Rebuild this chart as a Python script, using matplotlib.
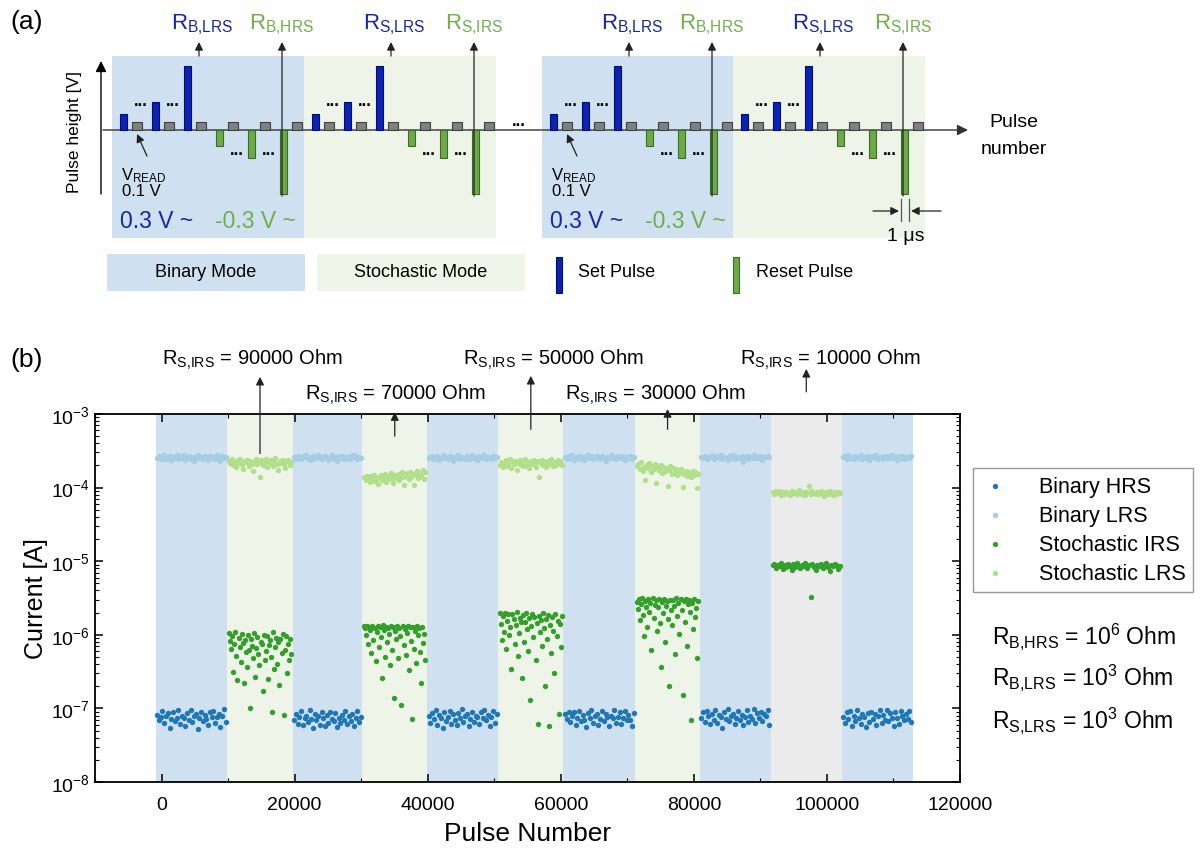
import numpy as np
import matplotlib.pyplot as plt
from matplotlib.ticker import MultipleLocator, LogLocator, FuncFormatter, NullFormatter

plt.rcParams['font.family'] = ['Liberation Sans', 'DejaVu Sans']
plt.rcParams['mathtext.fontset'] = 'custom'
plt.rcParams['mathtext.rm'] = 'Liberation Sans'
plt.rcParams['mathtext.it'] = 'Liberation Sans:italic'
plt.rcParams['mathtext.bf'] = 'Liberation Sans:bold'

# ---------------- panel (a) data: schematic pulse heights [V]
set_heights = [0.2, 0.35, 0.8]
reset_heights = [-0.2, -0.35, -0.8]
read_height = 0.1
cycle_modes = ['binary', 'stoch', 'binary', 'stoch']
cycle_top_labels = [['B', 'LRS', 'B', 'HRS'], ['S', 'LRS', 'S', 'IRS'],
                    ['B', 'LRS', 'B', 'HRS'], ['S', 'LRS', 'S', 'IRS']]

# ---------------- panel (b) data
block_edges = [-900, 9900, 19700, 30200, 39900, 50600, 60400, 71200, 80900, 91600, 102200, 112900]
block_kind = ['binary', 'stoch', 'binary', 'stoch', 'binary', 'stoch', 'binary', 'stoch', 'binary', 'gray', 'binary']

# binary LRS, x1e-4 A
lrs_b0 = [2.55, 2.68, 2.42, 2.61, 2.78, 2.47, 2.58, 2.71, 2.36, 2.63, 2.52, 2.80, 2.45, 2.66, 2.50, 2.74, 2.40, 2.59, 2.69, 2.48,
          2.62, 2.33, 2.57, 2.76, 2.51, 2.64, 2.44, 2.70, 2.56, 2.38, 2.67, 2.53, 2.60, 2.46, 2.73, 2.54, 2.28, 2.65, 2.49, 2.58]
lrs_b2 = [2.60, 2.47, 2.72, 2.53, 2.41, 2.66, 2.58, 2.79, 2.45, 2.62, 2.35, 2.70, 2.55, 2.49, 2.75, 2.61, 2.43, 2.57, 2.68, 2.52,
          2.40, 2.64, 2.77, 2.48, 2.59, 2.30, 2.66, 2.54, 2.71, 2.46, 2.63, 2.57, 2.42, 2.69, 2.51, 2.74, 2.58, 2.44, 2.62, 2.55]
lrs_b4 = [2.49, 2.63, 2.71, 2.44, 2.58, 2.66, 2.38, 2.55, 2.77, 2.51, 2.60, 2.46, 2.69, 2.57, 2.33, 2.64, 2.52, 2.74, 2.48, 2.61,
          2.56, 2.42, 2.68, 2.59, 2.45, 2.73, 2.53, 2.62, 2.39, 2.67, 2.50, 2.58, 2.76, 2.47, 2.60, 2.54, 2.43, 2.70, 2.56, 2.64]
lrs_b6 = [2.58, 2.45, 2.67, 2.52, 2.74, 2.40, 2.61, 2.55, 2.70, 2.48, 2.63, 2.36, 2.57, 2.76, 2.50, 2.65, 2.43, 2.59, 2.72, 2.53,
          2.46, 2.68, 2.56, 2.31, 2.62, 2.49, 2.75, 2.54, 2.60, 2.44, 2.69, 2.57, 2.51, 2.66, 2.39, 2.63, 2.55, 2.71, 2.47, 2.58]
lrs_b8 = [2.61, 2.54, 2.70, 2.46, 2.63, 2.57, 2.77, 2.42, 2.59, 2.66, 2.51, 2.73, 2.48, 2.62, 2.55, 2.38, 2.68, 2.53, 2.75, 2.45,
          2.60, 2.64, 2.50, 2.71, 2.22, 2.58, 2.67, 2.43, 2.62, 2.56, 2.74, 2.49, 2.65, 2.52, 2.69, 2.35, 2.60, 2.57, 2.72, 2.63]
lrs_b10 = [2.57, 2.66, 2.48, 2.73, 2.54, 2.62, 2.41, 2.69, 2.59, 2.50, 2.76, 2.45, 2.64, 2.56, 2.71, 2.37, 2.60, 2.67, 2.52, 2.74,
           2.47, 2.63, 2.58, 2.43, 2.70, 2.55, 2.65, 2.49, 2.78, 2.53, 2.61, 2.40, 2.68, 2.56, 2.72, 2.46, 2.62, 2.59, 2.51, 2.66]

# binary HRS, x1e-8 A
hrs_b0 = [8.2, 6.9, 7.6, 9.1, 6.3, 7.9, 8.6, 5.4, 7.2, 8.9, 6.7, 7.5, 9.4, 6.1, 8.0, 7.3, 5.8, 8.7, 7.0, 9.6,
          6.5, 7.8, 8.4, 5.3, 7.4, 9.0, 6.8, 8.1, 7.1, 6.0, 8.8, 7.7, 9.3, 6.4, 7.6, 8.3, 5.6, 7.9, 9.7, 6.6]
hrs_b2 = [7.0, 8.5, 6.2, 7.7, 9.2, 5.9, 7.3, 8.0, 6.6, 9.5, 7.1, 5.5, 8.3, 6.9, 7.8, 6.0, 8.8, 7.4, 5.7, 8.1,
          6.4, 9.0, 7.2, 6.7, 8.6, 5.6, 7.5, 6.3, 8.2, 7.0, 9.3, 6.1, 7.9, 6.8, 8.4, 5.8, 7.3, 9.1, 6.5, 7.6]
hrs_b4 = [7.9, 6.4, 8.7, 7.2, 9.4, 6.0, 8.1, 7.5, 5.5, 8.9, 6.8, 7.7, 9.2, 6.2, 8.4, 7.0, 5.9, 8.6, 7.3, 9.7,
          6.6, 7.8, 8.3, 5.7, 7.1, 9.0, 6.5, 8.0, 7.6, 6.1, 8.8, 7.4, 9.5, 6.9, 8.2, 5.8, 7.7, 9.1, 6.3, 8.5]
hrs_b6 = [8.4, 7.1, 9.0, 6.5, 7.8, 8.8, 5.9, 7.4, 9.3, 6.7, 8.1, 7.0, 5.6, 8.6, 7.5, 9.6, 6.3, 7.9, 8.3, 6.0,
          7.2, 9.1, 6.8, 8.5, 7.6, 5.8, 8.0, 7.3, 9.4, 6.4, 7.7, 8.9, 6.1, 7.5, 9.2, 6.9, 8.2, 7.0, 5.7, 8.7]
hrs_b8 = [7.3, 8.8, 6.6, 9.3, 7.9, 6.1, 8.4, 7.0, 9.6, 6.4, 8.1, 7.6, 5.5, 8.9, 7.2, 9.8, 6.8, 7.8, 8.5, 6.2,
          7.4, 9.1, 6.9, 8.2, 5.9, 7.7, 9.4, 6.5, 8.0, 7.1, 9.7, 6.3, 8.6, 7.5, 9.0, 6.7, 8.3, 7.8, 9.5, 6.0]
hrs_b10 = [7.6, 6.3, 8.9, 7.1, 9.2, 5.8, 8.0, 6.8, 9.5, 7.4, 6.1, 8.5, 7.7, 5.6, 8.7, 6.6, 9.0, 7.2, 8.3, 5.9,
           7.9, 9.4, 6.4, 8.1, 7.0, 9.6, 6.7, 8.6, 7.3, 5.7, 8.8, 7.5, 6.2, 9.1, 7.8, 6.9, 8.4, 7.1, 9.3, 6.5]

# stochastic LRS, x1e-4 A
slrs_s1 = [2.30, 2.15, 2.42, 2.05, 2.25, 1.92, 2.36, 2.18, 2.48, 2.10, 1.80, 2.28, 2.22, 2.40, 1.98, 2.33, 2.12, 1.70, 2.26, 2.45,
           2.08, 2.20, 1.38, 2.35, 2.02, 2.17, 2.43, 1.88, 2.29, 2.14, 2.38, 1.95, 2.24, 2.50, 2.06, 1.75, 2.31, 2.19, 2.40, 2.11,
           1.85, 2.27, 2.34, 2.00, 2.21]
slrs_s3 = [1.38, 1.25, 1.45, 1.30, 1.18, 1.42, 1.33, 1.50, 1.22, 1.36, 1.12, 1.40, 1.47, 1.28, 1.35, 1.55, 1.20, 1.43, 1.31, 1.60,
           1.37, 1.15, 1.48, 1.34, 1.52, 1.26, 1.44, 1.62, 1.39, 1.10, 1.46, 1.57, 1.32, 1.65, 1.41, 1.53, 1.08, 1.49, 1.70, 1.36,
           1.58, 1.45, 1.75, 1.30, 1.63]
slrs_s5 = [2.05, 2.25, 1.90, 2.18, 2.35, 1.98, 2.12, 2.42, 1.85, 2.22, 2.08, 2.30, 1.75, 2.15, 2.38, 2.02, 2.27, 1.95, 2.45, 2.10,
           2.20, 1.82, 2.32, 2.06, 2.40, 2.16, 1.92, 2.28, 1.40, 2.13, 2.36, 2.00, 2.24, 1.88, 2.33, 2.09, 2.43, 2.19, 1.96, 2.26,
           2.04, 2.37, 2.14, 2.29, 2.01]
slrs_s7 = [1.95, 2.10, 1.80, 2.25, 1.70, 1.92, 1.25, 2.05, 1.85, 2.18, 1.62, 1.98, 1.78, 2.08, 1.15, 1.88, 1.72, 2.00, 1.58, 1.90,
           1.68, 1.82, 1.05, 1.75, 1.95, 1.55, 1.85, 1.66, 1.78, 1.48, 1.72, 1.60, 1.80, 1.02, 1.52, 1.70, 1.45, 1.64, 1.58, 1.40,
           1.68, 1.50, 1.62, 1.00, 1.55]
slrs_s9 = [0.86, 0.82, 0.89, 0.84, 0.91, 0.80, 0.87, 0.83, 0.88, 0.85, 0.79, 0.90, 0.84, 0.86, 0.81, 0.93, 0.85, 0.82, 0.88, 0.80,
           0.87, 1.06, 0.83, 0.89, 0.84, 0.81, 0.86, 0.82, 0.90, 0.85, 0.78, 0.87, 0.83, 0.89, 0.84, 0.80, 0.86, 0.82, 0.88, 0.85]

# stochastic IRS, x1e-7 A
sirs_s1 = [10.5, 8.2, 6.5, 9.6, 3.1, 7.4, 10.8, 5.2, 2.4, 9.0, 6.9, 4.3, 10.2, 7.8, 2.2, 8.6, 5.8, 3.6, 9.9, 6.2,
           1.0, 8.9, 7.1, 4.8, 10.6, 2.7, 6.6, 9.3, 5.5, 3.9, 8.0, 7.5, 1.7, 10.0, 4.5, 6.0, 9.5, 2.5, 7.2, 8.4,
           5.0, 0.9, 10.9, 3.4, 6.8, 9.1, 4.0, 7.9, 2.1, 8.7, 5.7, 10.3, 0.82, 6.3, 9.7, 3.0, 7.6, 4.6, 8.8, 5.4]
sirs_s3 = [13.2, 12.5, 9.8, 13.0, 7.5, 12.8, 11.6, 5.6, 13.3, 8.6, 12.2, 4.4, 10.9, 13.1, 6.8, 12.6, 9.2, 2.6, 13.4, 11.8,
           5.0, 12.9, 7.9, 12.3, 10.4, 3.9, 13.0, 6.2, 12.7, 1.4, 11.2, 8.8, 13.2, 4.8, 12.4, 9.6, 1.1, 13.1, 7.2, 12.0,
           5.3, 10.6, 13.3, 3.3, 12.6, 8.2, 0.72, 12.9, 6.5, 11.4, 4.2, 13.0, 9.9, 12.2, 5.8, 2.2, 12.8, 7.7, 10.1, 4.6]
sirs_s5 = [19.5, 14.2, 8.6, 17.8, 11.0, 20.0, 6.5, 15.6, 18.9, 9.8, 12.7, 3.4, 19.2, 16.3, 7.4, 13.5, 20.1, 5.2, 10.5, 17.0,
           14.8, 2.6, 18.4, 8.1, 15.1, 19.7, 11.9, 6.0, 16.8, 1.3, 13.0, 19.0, 9.2, 17.4, 4.5, 14.6, 0.62, 18.1, 10.8, 15.9,
           7.0, 19.8, 12.3, 2.0, 16.5, 8.9, 18.7, 0.58, 13.8, 5.7, 17.6, 11.4, 3.0, 19.4, 9.5, 15.3, 0.85, 14.0, 6.8, 18.2]
sirs_s7 = [28.0, 22.5, 30.5, 15.8, 26.2, 31.2, 18.7, 9.5, 29.0, 24.1, 12.6, 30.8, 20.3, 27.4, 6.2, 31.5, 17.0, 25.5, 29.8, 11.2,
           23.6, 30.2, 14.3, 3.6, 27.9, 19.5, 31.0, 8.0, 25.0, 28.7, 16.4, 2.0, 30.0, 21.8, 13.5, 29.3, 24.8, 5.4, 31.4, 18.1,
           26.8, 10.4, 30.6, 22.0, 1.5, 28.4, 15.0, 31.1, 7.0, 25.9, 29.5, 20.6, 0.7, 27.1, 12.0, 30.3, 17.6, 23.2, 4.8, 28.9]
sirs_s9 = [88, 93, 82, 90, 85, 95, 79, 89, 84, 92, 86, 76, 91, 83, 94, 87, 80, 90, 85, 96,
           82, 88, 33, 93, 84, 77, 89, 86, 91, 81, 87, 94, 83, 74, 90, 85, 92, 88, 78, 86]

binary_blocks = [0, 2, 4, 6, 8, 10]
binary_lrs = [lrs_b0, lrs_b2, lrs_b4, lrs_b6, lrs_b8, lrs_b10]
binary_hrs = [hrs_b0, hrs_b2, hrs_b4, hrs_b6, hrs_b8, hrs_b10]
stoch_blocks = [1, 3, 5, 7, 9]
stoch_lrs = [slrs_s1, slrs_s3, slrs_s5, slrs_s7, slrs_s9]
stoch_irs = [sirs_s1, sirs_s3, sirs_s5, sirs_s7, sirs_s9]
r_irs_values = [90000, 70000, 50000, 30000, 10000]

# ---------------- colours
c_bin_bg, c_sto_bg, c_gray_bg = '#cfe0f0', '#eef5e8', '#ebebeb'
c_hrs, c_lrs, c_irs, c_slrs = '#1f78b4', '#a6cee3', '#33a02c', '#b2df8a'
c_set, c_set_edge = '#0b22b4', '#00106a'
c_rst, c_rst_edge = '#6aab48', '#3b6d25'
c_read, c_read_edge = '#808080', '#404040'
c_lab_blue, c_lab_green = '#1626a8', '#6db04a'


def rsub(a, b):
    # R with "a,b" subscript, comma without extra mathtext spacing
    return r'$\mathregular{R_{%s{,}%s}}$' % (a, b)


fig = plt.figure(figsize=(12, 8.54), dpi=100)

# ================= panel (a): schematic, drawn in pixel units
ax_a = fig.add_axes([0, 1 - 300 / 854, 1, 300 / 854])
ax_a.set_xlim(0, 1200)
ax_a.set_ylim(300, 0)
ax_a.axis('off')

base = 131
vscale = 80  # px per volt
cycle_starts = [120, 312, 550, 741]
slot = 32

arrow_kw = dict(arrowstyle='-|>', color='#222222', lw=0.9, mutation_scale=12, shrinkA=0, shrinkB=0)

for cs, mode, labs in zip(cycle_starts, cycle_modes, cycle_top_labels):
    bg = c_bin_bg if mode == 'binary' else c_sto_bg
    ax_a.add_patch(plt.Rectangle((cs - 8, 57), 192, 182, color=bg, zorder=0, lw=0))
    heights = set_heights + reset_heights
    for k, h in enumerate(heights):
        xc = cs + k * slot + 3.5
        fc, ec = (c_set, c_set_edge) if h > 0 else (c_rst, c_rst_edge)
        ax_a.bar(xc, -h * vscale, bottom=base, width=7, color=fc, edgecolor=ec, lw=0.8, zorder=3)
        ax_a.bar(xc + 13, -read_height * vscale, bottom=base, width=10, color=c_read,
                 edgecolor=c_read_edge, lw=0.8, zorder=3)
        if k in (0, 1):
            ax_a.text(xc + 17, 101, '...', ha='center', va='center', fontsize=12, fontweight='bold')
        if k in (3, 4):
            ax_a.text(xc + 17, 151, '...', ha='center', va='center', fontsize=12, fontweight='bold')
    # resistance arrows
    ax_a.annotate('', xy=(cs + 79, 43), xytext=(cs + 79, 57), arrowprops=arrow_kw)
    ax_a.annotate('', xy=(cs + 162, 43), xytext=(cs + 162, 197), arrowprops=arrow_kw, zorder=4)
    ax_a.text(cs + 82, 25, rsub(labs[0], labs[1]), ha='center', va='center',
              fontsize=16, color=c_lab_blue)
    ax_a.text(cs + 162, 25, rsub(labs[2], labs[3]), ha='center', va='center',
              fontsize=16, color=c_lab_green)
    if mode == 'binary':
        ax_a.text(cs + 1, 176, r'$\mathregular{V_{READ}}$', ha='left', va='center', fontsize=12)
        ax_a.text(cs + 2, 192, '0.1 V', ha='left', va='center', fontsize=12)
        ax_a.annotate('', xy=(cs + 17, 135), xytext=(cs + 27, 157), arrowprops=arrow_kw)
        ax_a.text(cs, 222, '0.3 V ~', ha='left', va='center', fontsize=16.5, color=c_lab_blue)
        ax_a.text(cs + 95, 222, '-0.3 V ~', ha='left', va='center', fontsize=16.5, color=c_lab_green)

# axes arrows
ax_a.annotate('', xy=(968, base), xytext=(103, base),
              arrowprops=dict(arrowstyle='-|>', color='#333333', lw=1.0, mutation_scale=16, shrinkA=0, shrinkB=0),
              zorder=1)
ax_a.annotate('', xy=(101, 62), xytext=(101, 195),
              arrowprops=dict(arrowstyle='-|>', color='black', lw=1.0, mutation_scale=16, shrinkA=0, shrinkB=0))
ax_a.text(519, 121, '...', ha='center', va='center', fontsize=12, fontweight='bold')
ax_a.text(75, 132, 'Pulse height [V]', rotation=90, ha='center', va='center', fontsize=12.5)
ax_a.text(1014, 136, 'Pulse\nnumber', ha='center', va='center', fontsize=14, linespacing=1.75)

# 1 us marker on last reset pulse
g3 = cycle_starts[-1] + 5 * slot
ax_a.plot([g3, g3], [200, 222], color='#555555', lw=0.9)
ax_a.plot([g3 + 8, g3 + 8], [200, 222], color='#555555', lw=0.9)
ax_a.annotate('', xy=(g3 - 2, 212), xytext=(g3 - 28, 212), arrowprops=arrow_kw)
ax_a.annotate('', xy=(g3 + 10, 212), xytext=(g3 + 40, 212), arrowprops=arrow_kw)
ax_a.text(g3 + 5, 237, '1 μs', ha='center', va='center', fontsize=14)

ax_a.text(27, 22, '(a)', ha='center', va='center', fontsize=19)

# mode/pulse key row
ax_a.add_patch(plt.Rectangle((107, 255), 198, 37, color=c_bin_bg, lw=0))
ax_a.text(206, 273, 'Binary Mode', ha='center', va='center', fontsize=13)
ax_a.add_patch(plt.Rectangle((317, 255), 208, 37, color=c_sto_bg, lw=0))
ax_a.text(421, 273, 'Stochastic Mode', ha='center', va='center', fontsize=13)
ax_a.add_patch(plt.Rectangle((556, 258), 6, 36, facecolor=c_set, edgecolor=c_set_edge, lw=0.8))
ax_a.text(578, 273, 'Set Pulse', ha='left', va='center', fontsize=13)
ax_a.add_patch(plt.Rectangle((733, 258), 6, 36, facecolor=c_rst, edgecolor=c_rst_edge, lw=0.8))
ax_a.text(756, 273, 'Reset Pulse', ha='left', va='center', fontsize=13)

# ================= panel (b)
ax_b = fig.add_axes([95 / 1200, 1 - 783 / 854, 865 / 1200, 368 / 854])
bg_colors = {'binary': c_bin_bg, 'stoch': c_sto_bg, 'gray': c_gray_bg}
for i, kind in enumerate(block_kind):
    ax_b.axvspan(block_edges[i], block_edges[i + 1], color=bg_colors[kind], lw=0, zorder=0)

ms = 15
for n, (blk, lrs, hrs) in enumerate(zip(binary_blocks, binary_lrs, binary_hrs)):
    x = np.linspace(block_edges[blk] + 250, block_edges[blk + 1] - 250, len(lrs))
    ax_b.scatter(x, np.array(lrs) * 1e-4, s=ms, color=c_lrs, lw=0, zorder=2,
                 label='Binary LRS' if n == 0 else None)
    x = np.linspace(block_edges[blk] + 250, block_edges[blk + 1] - 250, len(hrs))
    ax_b.scatter(x, np.array(hrs) * 1e-8, s=ms, color=c_hrs, lw=0, zorder=2,
                 label='Binary HRS' if n == 0 else None)
for n, (blk, slrs, sirs) in enumerate(zip(stoch_blocks, stoch_lrs, stoch_irs)):
    x = np.linspace(block_edges[blk] + 250, block_edges[blk + 1] - 250, len(slrs))
    ax_b.scatter(x, np.array(slrs) * 1e-4, s=ms, color=c_slrs, lw=0, zorder=2,
                 label='Stochastic LRS' if n == 0 else None)
    x = np.linspace(block_edges[blk] + 250, block_edges[blk + 1] - 250, len(sirs))
    ax_b.scatter(x, np.array(sirs) * 1e-7, s=ms, color=c_irs, lw=0, zorder=2,
                 label='Stochastic IRS' if n == 0 else None)

ax_b.set_yscale('log')
ax_b.set_ylim(1e-8, 1e-3)
ax_b.set_xlim(-10000, 120000)
ax_b.xaxis.set_major_locator(MultipleLocator(20000))
ax_b.xaxis.set_minor_locator(MultipleLocator(10000))
ax_b.yaxis.set_major_locator(LogLocator(base=10))
ax_b.yaxis.set_minor_locator(LogLocator(base=10, subs=np.arange(2, 10)))
ax_b.yaxis.set_minor_formatter(NullFormatter())
ax_b.yaxis.set_major_formatter(FuncFormatter(lambda v, p: r'$\mathregular{10^{%d}}$' % round(np.log10(v))))
ax_b.tick_params(which='both', direction='in', top=True, right=True, labelsize=14)
ax_b.tick_params(which='major', length=6, width=1.1)
ax_b.tick_params(which='minor', length=3, width=0.8)
ax_b.tick_params(axis='x', pad=10)
for sp in ax_b.spines.values():
    sp.set_linewidth(1.3)
ax_b.set_xlabel('Pulse Number', fontsize=19, labelpad=6)
ax_b.set_ylabel('Current [A]', fontsize=18, labelpad=2)

# R_S,IRS annotations
ann_text_x = [13700, 35100, 58900, 74200, 100500]
ann_text_y = [5.6e-3, 1.87e-3, 5.6e-3, 1.87e-3, 5.6e-3]
ann_tail = [2.9e-4, 5.0e-4, 6.2e-4, 6.2e-4, 2.0e-3]
ann_head = [3.2e-3, 1.06e-3, 3.3e-3, 1.17e-3, 4.1e-3]
for i, (blk, val) in enumerate(zip(stoch_blocks, r_irs_values)):
    xc = 0.5 * (block_edges[blk] + block_edges[blk + 1])
    ax_b.annotate('', xy=(xc, ann_head[i]), xytext=(xc, ann_tail[i]), arrowprops=arrow_kw,
                  annotation_clip=False, zorder=5)
    ax_b.text(ann_text_x[i], ann_text_y[i], rsub('S', 'IRS') + ' = %d Ohm' % val,
              ha='center', va='center', fontsize=14.5, clip_on=False)

handles, labels = ax_b.get_legend_handles_labels()
order = ['Binary HRS', 'Binary LRS', 'Stochastic IRS', 'Stochastic LRS']
hmap = dict(zip(labels, handles))
fig.legend([hmap[k] for k in order], order, loc='upper left', bbox_to_anchor=(973 / 1200, 1 - 469 / 854),
           fontsize=15.5, frameon=True, fancybox=False, edgecolor='#808080', borderpad=0.35, labelspacing=0.38,
           handlelength=1.3, handletextpad=1.4, borderaxespad=0, scatterpoints=1, markerscale=1.0)

fig.text(992 / 1200, 1 - 637 / 854, rsub('B', 'HRS') + r' = $\mathregular{10^6}$ Ohm', fontsize=16.5, va='center')
fig.text(992 / 1200, 1 - 678 / 854, rsub('B', 'LRS') + r' = $\mathregular{10^3}$ Ohm', fontsize=16.5, va='center')
fig.text(992 / 1200, 1 - 720 / 854, rsub('S', 'LRS') + r' = $\mathregular{10^3}$ Ohm', fontsize=16.5, va='center')
fig.text(27 / 1200, 1 - 360 / 854, '(b)', ha='center', va='center', fontsize=19)

fig.savefig('out.png', dpi=100)
